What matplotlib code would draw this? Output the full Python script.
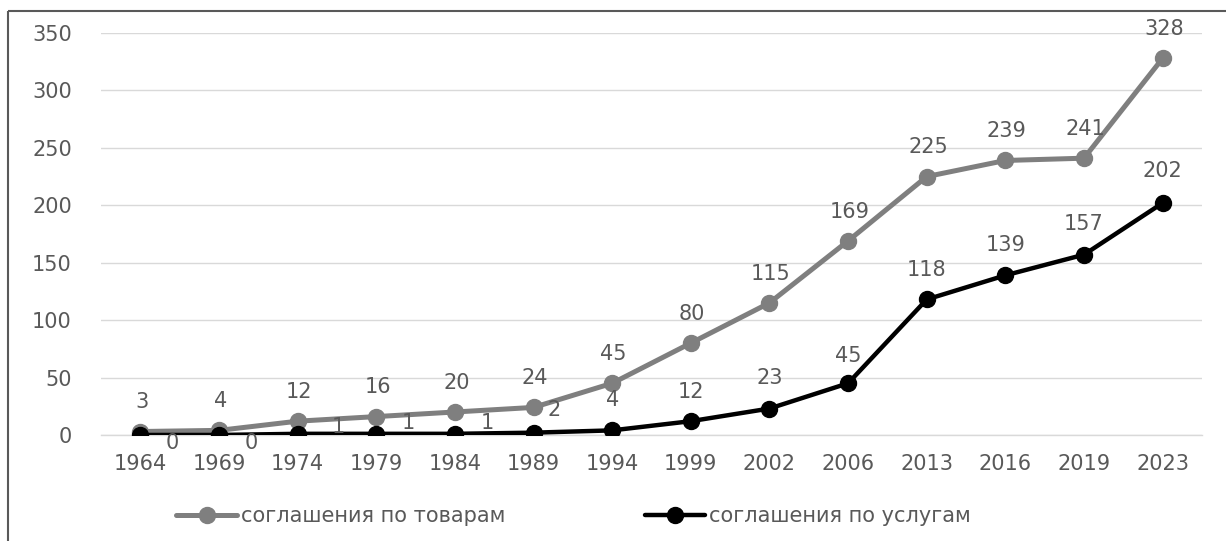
import matplotlib
matplotlib.use("Agg")
import matplotlib.pyplot as plt
from matplotlib.patches import Rectangle

years = ["1964", "1969", "1974", "1979", "1984", "1989", "1994",
         "1999", "2002", "2006", "2013", "2016", "2019", "2023"]
goods = [3, 4, 12, 16, 20, 24, 45, 80, 115, 169, 225, 239, 241, 328]
services = [0, 0, 1, 1, 1, 2, 4, 12, 23, 45, 118, 139, 157, 202]

# label offsets in points for the services series (dx, dy)
services_offsets = [(23, -6), (23, -6), (29, 5), (23, 8), (23, 8), (15, 16),
                    (0, 22), (0, 21), (0, 22), (0, 20), (0, 21), (0, 22),
                    (0, 22), (0, 23)]

text_color = "#595959"
grey = "#7f7f7f"
fs = 15

plt.rcParams["font.family"] = ["DejaVu Sans"]

fig = plt.figure(figsize=(12.26, 5.41), dpi=100)
ax = fig.add_axes([0.0824, 0.196, 0.898, 0.743])

x = list(range(len(years)))
ax.plot(x, goods, color=grey, lw=3.6, marker="o", ms=11.5,
        label="соглашения по товарам", zorder=3, solid_capstyle="round")
ax.plot(x, services, color="black", lw=3.2, marker="o", ms=11.5,
        label="соглашения по услугам", zorder=4, solid_capstyle="round")

for i, v in enumerate(goods):
    ax.annotate(str(v), (i, v), xytext=(1, 21), textcoords="offset points",
                ha="center", va="center", fontsize=fs, color=text_color, zorder=5)
for i, v in enumerate(services):
    dx, dy = services_offsets[i]
    ax.annotate(str(v), (i, v), xytext=(dx, dy), textcoords="offset points",
                ha="center", va="center", fontsize=fs, color=text_color, zorder=5)

ax.set_xlim(-0.5, len(years) - 0.5)
ax.set_ylim(0, 350)
ax.set_yticks(range(0, 351, 50))
ax.set_xticks(x)
ax.set_xticklabels(years)
ax.tick_params(axis="both", length=0, labelsize=fs, colors=text_color)
ax.tick_params(axis="y", pad=21)
ax.tick_params(axis="x", pad=14)
ax.grid(axis="y", color="#d9d9d9", lw=1)
ax.set_axisbelow(True)
for side in ("top", "right", "left"):
    ax.spines[side].set_visible(False)
ax.spines["bottom"].set_color("#d9d9d9")
ax.spines["bottom"].set_linewidth(1)

leg = fig.legend(loc="center", bbox_to_anchor=(0.468, 0.046), ncol=2,
                 frameon=False, fontsize=fs, handlelength=2.9,
                 handletextpad=0.2, columnspacing=6.7, labelcolor=text_color)

# outer frame around the chart area
fig.patches.append(Rectangle((8 / 1226, 1 - 11 / 541), 1.2, -1.2,
                             transform=fig.transFigure, fill=False,
                             edgecolor="#595959", lw=1.5, clip_on=False))

fig.savefig("out.png", dpi=100)
